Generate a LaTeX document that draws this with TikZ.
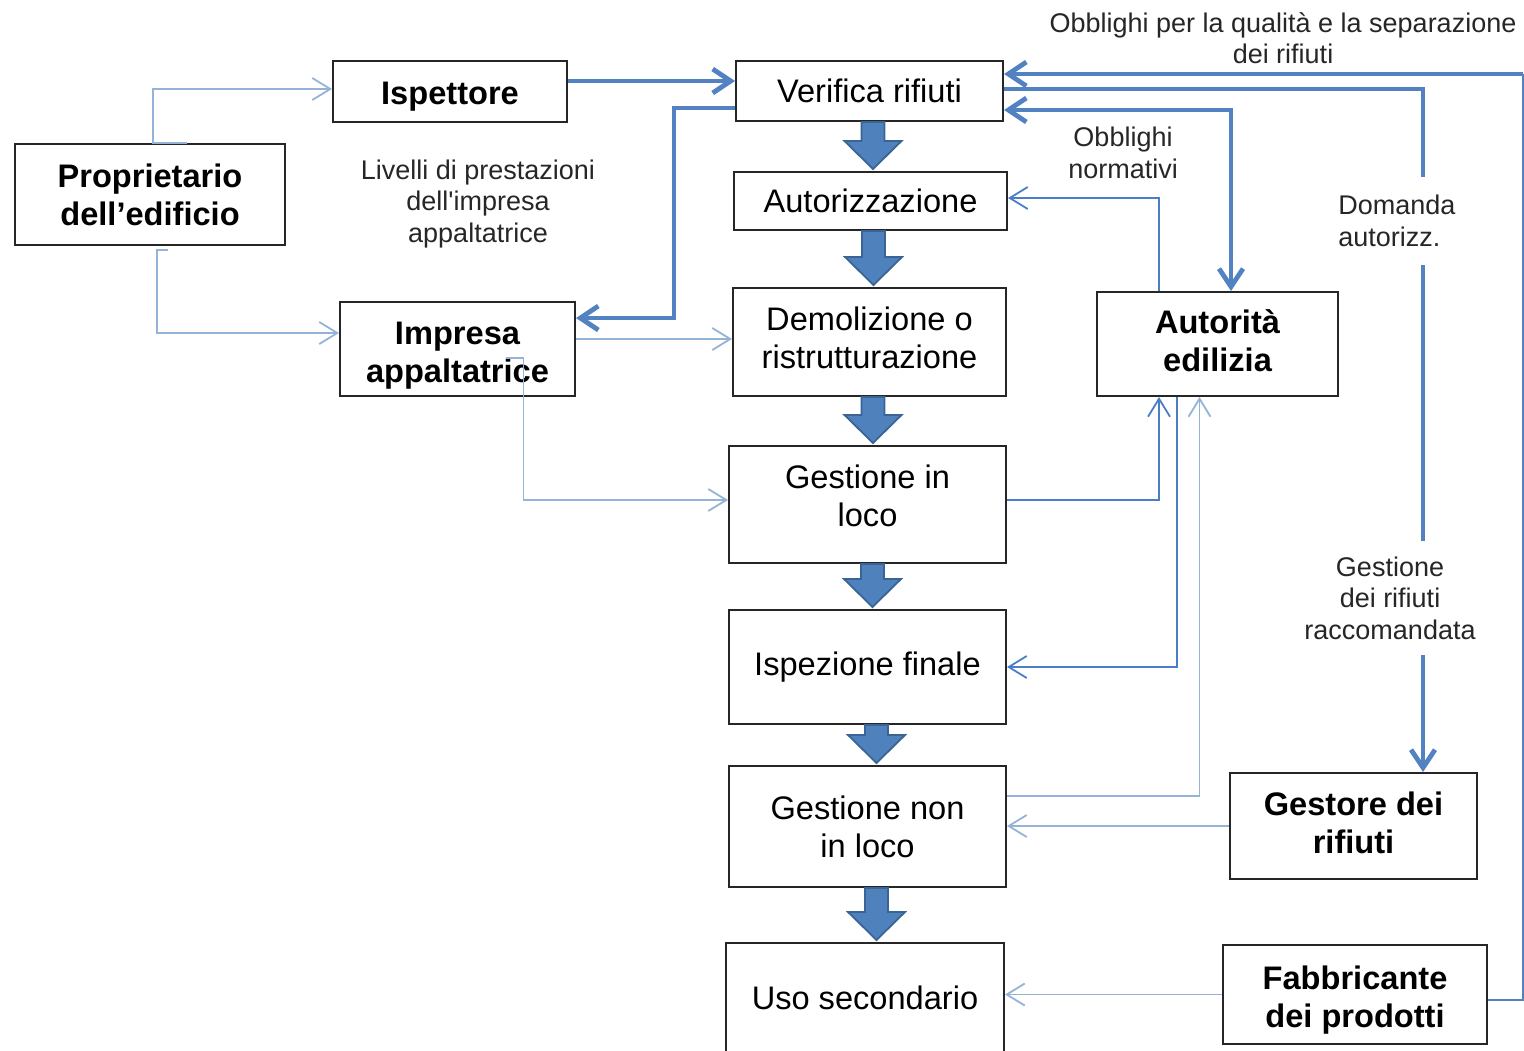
\documentclass[tikz,border=0pt]{standalone}
\usepackage{fontspec}
\setmainfont{Liberation Sans}
\usetikzlibrary{arrows.meta,calc}
\definecolor{fatfill}{HTML}{4F81BD}
\definecolor{fatedge}{HTML}{3A6496}
\definecolor{thickc}{HTML}{5282C2}
\definecolor{lightc}{HTML}{95B3D7}
\definecolor{midc}{HTML}{4A7EC8}
\newcommand{\fatarrow}[2]{%
  \filldraw[fatarr] let \p1=(#1), \p2=(#2) in
    (\x1-5.75pt,\y1) -- (\x1-5.75pt,\y2+15pt) -- (\x1-14.25pt,\y2+15pt) --
    (\x1,\y2+1pt) -- (\x1+14.25pt,\y2+15pt) -- (\x1+5.75pt,\y2+15pt) --
    (\x1+5.75pt,\y1) -- cycle;}
\begin{document}
\begin{tikzpicture}[x=0.5pt,y=-0.5pt,
  box/.style={draw=black!85, line width=1pt, inner sep=0pt, align=center,
    font=\fontsize{16.3}{19}\selectfont},
  bbox/.style={box, font=\fontsize{16.3}{19}\selectfont\bfseries},
  lab/.style={align=center, font=\fontsize{13.5}{15.7}\selectfont, text=black!85, inner sep=1pt},
  thinarr/.style={draw=lightc, line width=0.9pt, -{Straight Barb[length=9pt,width=11pt]}},
  midarr/.style={draw=midc, line width=0.9pt, -{Straight Barb[length=9pt,width=11pt]}},
  thickarr/.style={draw=thickc, line width=2.4pt, -{Straight Barb[length=9pt,width=12pt]}},
  thickboth/.style={draw=thickc, line width=2.4pt,
    {Straight Barb[length=9pt,width=12pt]}-{Straight Barb[length=9pt,width=12pt]}},
  fatarr/.style={fill=fatfill, draw=fatedge, line width=0.9pt, line join=miter}
]
\useasboundingbox (0,0) rectangle (1524,1050);

% boxes
\node[bbox, minimum width=117pt, minimum height=30.5pt] (isp) at (450,91.5) {\mbox{}\\[-3pt]Ispettore};
\node[bbox, minimum width=135pt, minimum height=50.5pt] (prop) at (150,194.5) {Proprietario\\dell’edificio};
\node[bbox, minimum width=117.5pt, minimum height=47pt] (imp) at (457.5,349) {\mbox{}\\[-1pt]Impresa\\appaltatrice};
\node[box, minimum width=133.5pt, minimum height=30pt] (ver) at (869.5,91) {Verifica rifiuti};
\node[box, minimum width=136.5pt, minimum height=29pt] (aut) at (870.5,201) {Autorizzazione};
\node[box, minimum width=136.5pt, minimum height=54pt] (dem) at (869.5,342) {Demolizione o\\ristrutturazione\\[-15pt]\mbox{}};
\node[box, minimum width=138.5pt, minimum height=58.5pt] (gil) at (867.5,504.5) {Gestione in\\loco\\[-10pt]\mbox{}};
\node[box, minimum width=138.5pt, minimum height=57pt] (isf) at (867.5,667) {Ispezione finale};
\node[box, minimum width=138.5pt, minimum height=60.5pt] (gnl) at (867.5,826.5) {Gestione non\\in loco};
\node[box, minimum width=139pt, minimum height=54.5pt] (uso) at (865,997.5) {Uso secondario};
\node[bbox, minimum width=120.5pt, minimum height=52pt] (ae) at (1217.5,344) {Autorità\\edilizia\\[-16pt]\mbox{}};
\node[bbox, minimum width=123.5pt, minimum height=53pt] (ges) at (1353.5,826) {Gestore dei\\rifiuti\\[-16pt]\mbox{}};
\node[bbox, minimum width=132pt, minimum height=49.5pt] (fab) at (1355,994.5) {\mbox{}\\[-2pt]Fabbricante\\dei prodotti};

% fat flow arrows
\fatarrow{[xshift=1.75pt]ver.south}{[xshift=1.75pt]aut.north}
\fatarrow{[xshift=1.5pt]aut.south}{[xshift=1.5pt]dem.north}
\fatarrow{[xshift=1.75pt]dem.south}{[xshift=1.75pt]gil.north}
\fatarrow{[xshift=2.5pt]gil.south}{[xshift=2.5pt]isf.north}
\fatarrow{[xshift=4.5pt]isf.south}{[xshift=4.5pt]gnl.north}
\fatarrow{[xshift=4.5pt]gnl.south}{[xshift=5.5pt]uso.north}

% left side connectors
\draw[thinarr] ([xshift=18.5pt]prop.north) -- ([xshift=1.5pt]prop.north) |- ([yshift=1.25pt]isp.west);
\draw[thinarr] ([xshift=9pt,yshift=-2pt]prop.south) -- ([xshift=3.5pt,yshift=-2pt]prop.south) |- ([yshift=8pt]imp.west);
\draw[thickarr] ([yshift=5.25pt]isp.east) -- ([yshift=5pt]ver.west);
\draw[thickarr] ([yshift=-8.5pt]ver.west) -- ++(-61,0) |- ([yshift=15.5pt]imp.east);
\draw[thinarr] ([yshift=5pt]imp.east) -- ([yshift=1.5pt]dem.west);
\draw[thinarr] ([xshift=24pt,yshift=-4.5pt]imp.center) -- ++(18,0) |- ([yshift=2.25pt]gil.west);

% right side connectors
\draw[midarr] ([xshift=-29.25pt]ae.north) |- ([yshift=1.5pt]aut.east);
\draw[midarr] ([yshift=2.25pt]gil.east) -| ([xshift=-29.25pt]ae.south);
\draw[midarr] ([xshift=-20.25pt]ae.south) |- (isf.east);
\draw[thinarr] ([yshift=15.25pt]gnl.east) -| ([xshift=-9pt]ae.south);
\draw[thinarr] (ges.west) -- (ges.west -| gnl.east);
\draw[thinarr] (fab.west) -- (fab.west -| uso.east);

\coordinate (vt) at ([yshift=8.5pt]ver.east);
\draw[draw=thickc, line width=1.4pt] ([yshift=-2.75pt]fab.east) -- ++(35,0) coordinate (rc) -- (rc |- vt);
\draw[thickarr] (rc |- vt) -- (vt);
\draw[thickarr] ([yshift=1pt]ver.east) -| ([xshift=34.75pt]ges.north);
\draw[thickboth] ([yshift=-9.5pt]ver.east) -| ([xshift=6.75pt]ae.north);

% labels
\node[lab] (lq) at (1283,38) {Obblighi per la qualità e la separazione\\dei rifiuti};
\node[lab] (lliv) at (478,204) {Livelli di prestazioni\\dell\textquotesingle impresa\\appaltatrice};
\node[lab] (lnorm) at (1123,153) {Obblighi\\normativi};
\node[lab, fill=white, align=left, anchor=west, inner ysep=9pt] (ldom) at (1336,221) {Domanda\\autorizz.};
\node[lab, fill=white, inner ysep=8pt] (lgest) at (1390,598) {Gestione\\dei rifiuti\\raccomandata};
\end{tikzpicture}
\end{document}
